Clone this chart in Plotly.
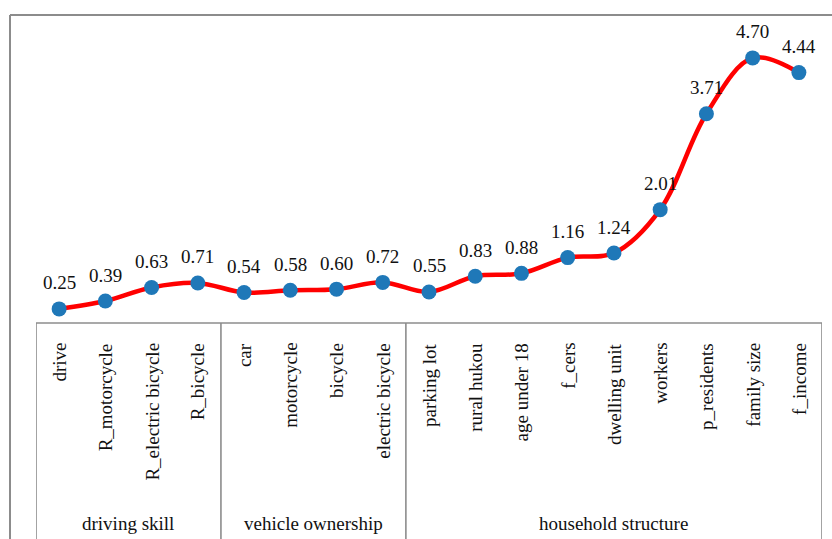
import plotly.graph_objects as go

categories = ["drive", "R_motorcycle", "R_electric bicycle", "R_bicycle",
              "car", "motorcycle", "bicycle", "electric bicycle",
              "parking lot", "rural hukou", "age under 18", "f_cers",
              "dwelling unit", "workers", "p_residents", "family size", "f_income"]
values = [0.25, 0.39, 0.63, 0.71, 0.54, 0.58, 0.60, 0.72,
          0.55, 0.83, 0.88, 1.16, 1.24, 2.01, 3.71, 4.70, 4.44]
group_names = ["driving skill", "vehicle ownership", "household structure"]
group_sizes = [4, 4, 9]

W, H = 832, 539
FONT = "Liberation Serif, Times New Roman, serif"

def py(px):  # pixel y (from top) -> paper
    return 1 - px / H

def pxx(px):
    return px / W

x_idx = list(range(len(categories)))

fig = go.Figure()
fig.add_trace(go.Scatter(
    x=x_idx, y=values,
    mode="lines+markers",
    line=dict(color="#FF0000", width=4.5, shape="spline", smoothing=1.0),
    marker=dict(color="#1F78B8", size=15),
    hoverinfo="skip",
    cliponaxis=False,
))

plot_bottom_px = 323
px_per_unit = 56.4
fig.update_layout(
    width=W, height=H,
    margin=dict(l=0, r=0, t=0, b=0),
    paper_bgcolor="white", plot_bgcolor="white",
    showlegend=False,
    xaxis=dict(domain=[pxx(36), pxx(822)], range=[-0.5, len(categories) - 0.5],
               visible=False, fixedrange=True),
    yaxis=dict(domain=[py(plot_bottom_px), 1], range=[0, plot_bottom_px / px_per_unit],
               visible=False, fixedrange=True),
)

shapes = []
# outer chart border (left and top visible)
shapes.append(dict(type="line", xref="paper", yref="paper",
                   x0=pxx(10), x1=pxx(10), y0=-0.02, y1=py(15),
                   line=dict(color="#8C8C8C", width=2)))
shapes.append(dict(type="line", xref="paper", yref="paper",
                   x0=pxx(10), x1=1.02, y0=py(15), y1=py(15),
                   line=dict(color="#8C8C8C", width=2)))
# table box
line_style = dict(color="#8C8C8C", width=1.6)
shapes.append(dict(type="line", xref="x", yref="paper",
                   x0=-0.5, x1=len(categories) - 0.5, y0=py(plot_bottom_px), y1=py(plot_bottom_px),
                   line=line_style))
bounds = [-0.5]
acc = -0.5
for s in group_sizes:
    acc += s
    bounds.append(acc)
for b in bounds:
    shapes.append(dict(type="line", xref="x", yref="paper",
                       x0=b, x1=b, y0=-0.02, y1=py(plot_bottom_px),
                       line=line_style))
fig.update_layout(shapes=shapes)

annotations = []
for i, v in enumerate(values):
    annotations.append(dict(x=i, xref="x", y=v, yref="y", text=f"{v:.2f}",
                            showarrow=False, xanchor="center", yanchor="middle",
                            yshift=26,
                            font=dict(family=FONT, size=19, color="#111111")))
for i, c in enumerate(categories):
    annotations.append(dict(x=i, xref="x", y=py(341), yref="paper",
                            text=c, textangle=-90, showarrow=False,
                            xanchor="center", yanchor="top",
                            font=dict(family=FONT, size=19, color="#111111")))
for gi, g in enumerate(group_names):
    annotations.append(dict(x=(bounds[gi] + bounds[gi + 1]) / 2, xref="x",
                            y=py(523), yref="paper", text=g, showarrow=False,
                            xanchor="center", yanchor="middle",
                            font=dict(family=FONT, size=19, color="#111111")))
fig.update_layout(annotations=annotations)

fig.write_html("out.html",
               config={"displayModeBar": False},
               post_script="document.body.style.margin='0px';document.body.style.overflow='hidden';")
